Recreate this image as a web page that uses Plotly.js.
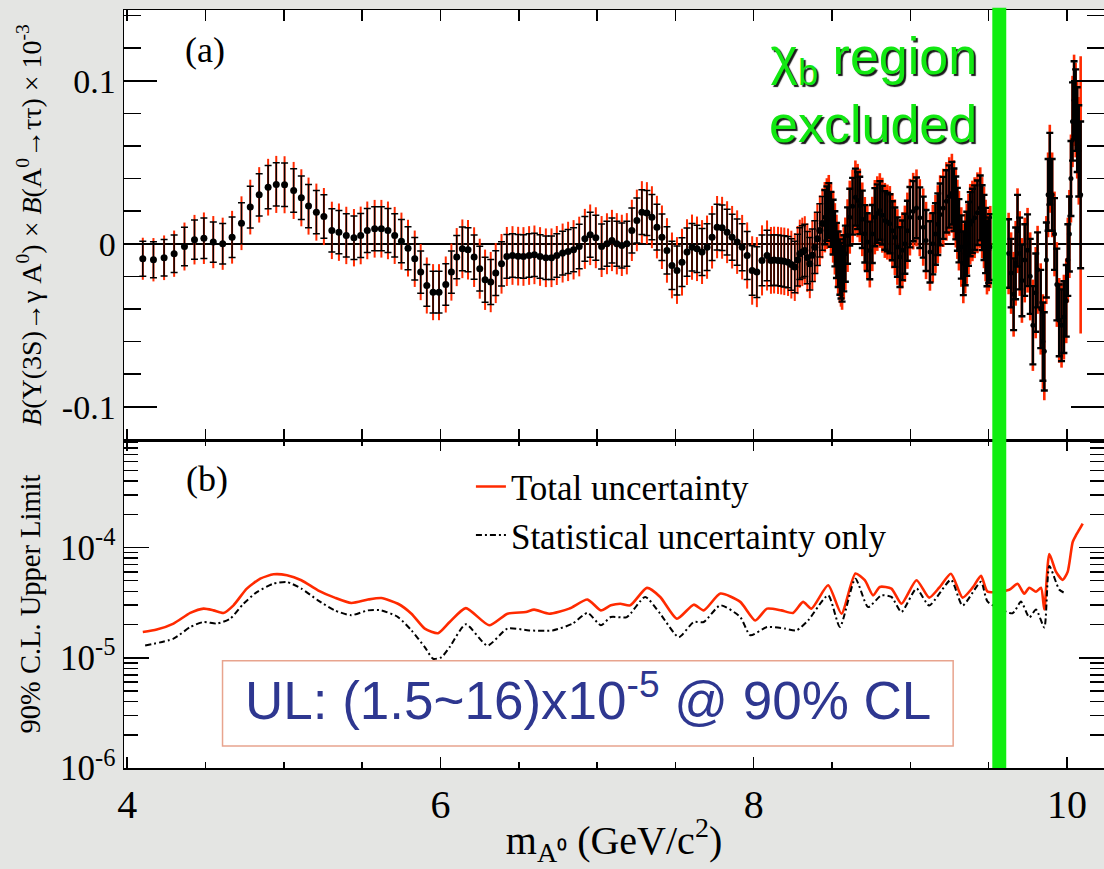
<!DOCTYPE html>
<html>
<head>
<meta charset="utf-8">
<script src="https://cdn.plot.ly/plotly-3.0.1.min.js"></script>
<style>
html,body{margin:0;padding:0;background:#e4e5e3;}
#chart{width:1104px;height:869px;}
</style>
</head>
<body>
<div id="chart"></div>
<script>
// ---------- Panel (a): fitted signal branching fraction (x 1e-3) ----------
const massX = [
 4.10,4.168,4.236,4.30,4.366,4.43,4.49,4.55,4.61,4.67,4.73,4.786,4.843,4.90,4.952,5.005,5.063,5.112,5.158,5.208,
 5.256,5.307,5.352,5.399,5.448,5.491,5.533,5.58,5.623,5.665,5.708,5.751,5.793,5.836,5.874,5.913,5.953,5.991,6.034,
 6.07,6.104,6.14,6.176,6.215,6.251,6.285,6.321,6.353,6.39,6.424,6.46,6.496,6.53,6.566,6.60,6.636,6.673,6.709,6.743,
 6.78,6.815,6.85,6.886,6.922,6.956,6.992,7.029,7.063,7.095,7.126,7.158,7.19,7.222,7.254,7.286,7.318,7.35,7.382,7.414,
 7.446,7.478,7.51,7.542,7.574,7.606,7.638,7.67,7.702,7.734,7.766,7.798,7.83,7.862,7.894,7.926,7.958,7.99,8.02,8.053,8.085,
 8.11,8.13,8.155,8.175,8.195,8.219,8.24,8.262,8.28,8.294,8.31,8.326,8.342,8.358,8.374,8.39,8.406,8.422,8.438,8.454,
 8.467,8.479,8.493,8.507,8.518,8.528,8.539,8.55,8.557,8.564,8.575,8.585,8.599,8.613,8.631,8.649,8.663,8.677,8.693,8.709,
 8.725,8.741,8.757,8.773,8.789,8.805,8.821,8.837,8.853,8.869,8.885,8.901,8.917,8.933,8.949,8.965,8.981,8.997,9.018,9.039,
 9.06,9.082,9.10,9.125,9.143,9.16,9.175,9.19,9.21,9.23,9.248,9.265,9.278,9.29,9.30,9.31,9.325,9.338,9.35,9.36,
 9.371,9.382,9.396,9.41,9.428,9.446,9.458,9.47,9.48,9.489,9.50,9.51,
 9.627,9.643,9.659,9.672,9.684,9.698,9.712,9.73,9.748,9.765,9.782,9.80,9.812,9.832,9.846,9.855,9.868,9.879,9.89,9.905,
 9.92,9.935,9.95,9.965,9.98,9.995,10.005,10.015,10.025,10.035,10.045,10.055,10.065,10.075,10.087
];
const central = [
 -0.0092,-0.0098,-0.0086,-0.0061,-0.0017,0.0025,0.0034,0.001,0.0,0.004,0.0126,0.0225,0.030,0.0347,0.0364,0.0362,0.0327,0.0282,0.0231,0.0194,
 0.0167,0.0082,0.0071,0.0051,0.0037,0.0051,0.0082,0.0092,0.0092,0.0082,0.0051,0.0016,-0.0027,-0.0092,-0.0174,-0.0256,-0.0297,-0.0297,-0.025,
 -0.0174,-0.0082,-0.0031,-0.0037,-0.0082,-0.0153,-0.0221,-0.0235,-0.018,-0.0123,-0.0078,-0.0072,-0.0076,-0.0078,-0.0072,-0.0068,-0.0078,-0.0086,-0.0086,-0.0072,
 -0.0057,-0.0047,-0.0037,-0.0017,0.003,0.0055,0.0037,-0.0017,0.0,0.002,0.0,-0.001,0.0,0.0082,0.0143,0.0194,0.0188,0.0163,0.0102,0.004,
 -0.0041,-0.0133,-0.0164,-0.0113,-0.0051,-0.0021,-0.0031,-0.0051,-0.0021,0.004,0.0102,0.0098,0.0071,0.004,0.001,-0.0021,-0.0072,-0.0164,-0.0174,-0.0102,-0.0072,
 -0.0102,-0.0100,-0.0102,-0.0105,-0.0108,-0.0113,-0.0128,-0.0143,-0.0100,-0.0061,-0.0050,-0.0041,-0.0085,-0.0123,-0.0070,-0.0021,0.0030,0.0082,0.0125,0.0163,
 0.0185,0.0204,0.0150,0.0102,0.0030,-0.0041,-0.0095,-0.0143,-0.0165,-0.0184,-0.0120,-0.0061,0.0050,0.0163,0.0230,0.0286,0.0265,0.0235,0.0150,0.0061,
 0.0010,-0.0041,0.0060,0.0163,0.0185,0.0204,0.0175,0.0143,0.0133,0.0123,0.0080,0.0040,-0.0020,-0.0082,-0.0040,0.0000,0.0080,0.0163,0.0200,0.0220,
 0.0160,0.0102,0.0020,-0.0050,0.0000,0.0060,0.0120,0.0180,0.0220,0.0260,0.0290,0.0310,0.0270,0.0220,0.0150,0.0080,-0.0020,-0.0120,-0.0060,0.0000,
 0.0060,0.0120,0.0140,0.0160,0.0190,0.0220,0.0160,0.0100,0.0020,-0.0060,-0.0040,-0.0020,
 -0.006,-0.018,-0.031,-0.012,0.008,-0.006,-0.0225,-0.010,-0.004,-0.020,-0.050,-0.030,-0.016,-0.040,-0.060,-0.066,-0.010,0.030,0.046,0.030,
 0.006,-0.025,-0.047,-0.050,-0.045,-0.035,-0.010,0.006,0.040,0.075,0.088,0.082,0.070,0.057,0.030
];
const statErr = [
 0.0107,0.011,0.0112,0.0115,0.0118,0.012,0.0124,0.0124,0.0124,0.0124,0.0126,0.0128,0.013,0.0133,0.0133,0.0133,0.0133,0.0133,0.0133,0.0133,
 0.0133,0.0133,0.0133,0.0133,0.0133,0.0135,0.0135,0.0135,0.0135,0.0135,0.0133,0.0133,0.0132,0.013,0.013,0.0128,0.0128,0.0128,0.0128,
 0.0130,0.0132,0.0134,0.0135,0.0136,0.0137,0.0138,0.0138,0.0137,0.0136,0.0134,0.0133,0.0133,0.0133,0.0133,0.0133,0.0133,0.0133,0.0133,0.0134,
 0.0134,0.0135,0.0135,0.0136,0.0137,0.0138,0.0138,0.0138,0.0138,0.0138,0.0138,0.0138,0.0138,0.0138,0.0138,0.0138,0.0138,0.0139,0.0140,0.0142,
 0.0145,0.0148,0.0150,0.0150,0.0148,0.0146,0.0145,0.0144,0.0143,0.0142,0.0141,0.0140,0.0140,0.0141,0.0142,0.0144,0.0147,0.0152,0.0155,0.0155,0.0155,
 0.0155,0.0155,0.0156,0.0156,0.0157,0.0157,0.0158,0.0158,0.0159,0.0159,0.016,0.016,0.016,0.0161,0.0161,0.0162,0.0163,0.0164,0.0165,0.0166,
 0.0167,0.0168,0.0168,0.0168,0.0169,0.0169,0.017,0.017,0.0171,0.0171,0.0172,0.0172,0.0173,0.0174,0.0174,0.0175,0.0175,0.0176,0.0176,0.0176,
 0.0177,0.0177,0.0178,0.0178,0.0179,0.0179,0.018,0.018,0.018,0.0181,0.0181,0.0182,0.0182,0.0183,0.0183,0.0184,0.0184,0.0185,0.0185,0.0186,
 0.0186,0.0187,0.0187,0.0188,0.0188,0.0189,0.0189,0.019,0.019,0.0191,0.0191,0.0192,0.0192,0.0193,0.0193,0.0194,0.0194,0.0195,0.0195,0.0196,
 0.0196,0.0197,0.0197,0.0198,0.0198,0.0199,0.0199,0.02,0.02,0.0201,0.0201,0.0202,
 0.021,0.021,0.022,0.022,0.022,0.022,0.022,0.022,0.022,0.023,0.024,0.024,0.023,0.024,0.024,0.024,0.023,0.022,0.022,0.022,
 0.022,0.022,0.022,0.022,0.022,0.022,0.022,0.023,0.023,0.024,0.024,0.025,0.026,0.028,0.045
];
const totErr = [
 0.0129,0.0133,0.0137,0.0142,0.0147,0.0152,0.0158,0.016,0.016,0.0162,0.0165,0.0168,0.017,0.0174,0.0175,0.0175,0.0175,0.0175,0.0175,0.0175,
 0.0175,0.0176,0.0176,0.0176,0.0176,0.0177,0.0177,0.0177,0.0177,0.0177,0.0175,0.0175,0.0174,0.0173,0.0172,0.0172,0.0172,0.0172,0.0172,
 0.0175,0.0178,0.018,0.0182,0.0183,0.0184,0.0185,0.0185,0.0184,0.0183,0.0181,0.018,0.018,0.018,0.018,0.018,0.018,0.018,0.018,0.0181,
 0.0181,0.0182,0.0182,0.0183,0.0184,0.0186,0.0187,0.0187,0.0187,0.0188,0.0188,0.0188,0.0188,0.0188,0.0189,0.019,0.019,0.019,0.0192,0.0195,
 0.0198,0.0202,0.0205,0.0205,0.0202,0.02,0.0198,0.0196,0.0194,0.0192,0.0191,0.019,0.019,0.0192,0.0195,0.0198,0.0203,0.021,0.0215,0.0215,0.0215,
 0.0205,0.0205,0.0206,0.0206,0.0207,0.0207,0.0208,0.0208,0.0209,0.0209,0.021,0.021,0.021,0.0211,0.0211,0.0212,0.0213,0.0214,0.0215,0.0216,
 0.0217,0.0218,0.0218,0.0218,0.0219,0.0219,0.022,0.022,0.0221,0.0221,0.0222,0.0222,0.0223,0.0224,0.0224,0.0225,0.0225,0.0226,0.0226,0.0226,
 0.0227,0.0227,0.0228,0.0228,0.0229,0.0229,0.023,0.023,0.023,0.0231,0.0231,0.0232,0.0232,0.0233,0.0233,0.0234,0.0234,0.0235,0.0235,0.0236,
 0.0236,0.0237,0.0237,0.0238,0.0238,0.0239,0.0239,0.024,0.024,0.0241,0.0241,0.0242,0.0242,0.0243,0.0243,0.0244,0.0244,0.0245,0.0245,0.0246,
 0.0246,0.0247,0.0247,0.0248,0.0248,0.0249,0.0249,0.025,0.025,0.0251,0.0251,0.0252,
 0.025,0.025,0.026,0.026,0.026,0.026,0.026,0.026,0.026,0.027,0.028,0.028,0.027,0.028,0.029,0.030,0.027,0.026,0.027,0.026,
 0.026,0.026,0.026,0.026,0.026,0.026,0.026,0.027,0.027,0.028,0.028,0.029,0.030,0.033,0.085
];

// ---------- Panel (b): 90% C.L. upper limits ----------
const ulTotX = [4.10,4.189,4.296,4.403,4.488,4.551,4.615,4.679,4.764,4.85,4.935,5.02,5.112,5.218,5.325,5.431,5.537,5.623,5.729,5.815,
 5.90,5.985,6.059,6.162,6.311,6.428,6.545,6.598,6.694,6.822,6.939,7.024,7.088,7.148,7.212,7.318,7.403,7.51,7.617,7.681,
 7.787,7.914,8.01,8.085,8.176,8.251,8.315,8.368,8.475,8.56,8.649,8.709,8.762,8.805,8.879,8.943,9.039,9.12,9.184,9.259,
 9.333,9.397,9.451,9.493,9.631,9.684,9.727,9.759,9.802,9.834,9.855,9.887,9.93,9.972,10.004,10.036,10.058,10.078,10.10];
const ulTotal = [1.71e-5,1.80e-5,2.04e-5,2.55e-5,2.79e-5,2.69e-5,2.55e-5,2.99e-5,4.24e-5,5.22e-5,5.71e-5,5.60e-5,5.05e-5,4.09e-5,3.51e-5,3.14e-5,3.37e-5,3.48e-5,3.09e-5,2.51e-5,
 1.84e-5,1.67e-5,2.11e-5,2.82e-5,1.97e-5,2.51e-5,2.60e-5,2.73e-5,2.51e-5,2.79e-5,3.37e-5,2.69e-5,2.99e-5,3.09e-5,2.99e-5,4.30e-5,3.56e-5,2.26e-5,3.03e-5,2.69e-5,
 3.82e-5,3.21e-5,2.18e-5,2.79e-5,2.69e-5,2.55e-5,3.21e-5,2.79e-5,4.54e-5,2.51e-5,5.81e-5,5.05e-5,3.68e-5,4.39e-5,4.24e-5,3.09e-5,5.05e-5,3.51e-5,4.32e-5,5.77e-5,
 3.51e-5,4.32e-5,5.53e-5,3.97e-5,4.14e-5,4.69e-5,3.81e-5,4.32e-5,3.97e-5,4.32e-5,2.74e-5,8.73e-5,6.01e-5,5.09e-5,6.01e-5,1.12e-4,1.30e-4,1.45e-4,1.65e-4];
const ulStatX = [4.115,4.296,4.403,4.488,4.573,4.658,4.743,4.828,4.935,5.02,5.112,5.218,5.325,5.431,5.537,5.623,5.729,5.815,5.90,5.953,
 6.006,6.059,6.162,6.30,6.428,6.566,6.716,6.844,6.939,7.024,7.088,7.19,7.307,7.403,7.521,7.617,7.681,7.787,7.914,7.978,
 8.085,8.198,8.272,8.347,8.475,8.55,8.649,8.73,8.815,8.879,8.943,9.039,9.12,9.259,9.333,9.451,9.493,9.652,9.706,9.759,
 9.802,9.855,9.887,9.951,9.994,10.04,10.09];
const ulStat = [1.29e-5,1.49e-5,1.90e-5,2.11e-5,2.04e-5,2.26e-5,3.09e-5,3.94e-5,4.71e-5,4.86e-5,4.24e-5,3.32e-5,2.69e-5,2.43e-5,2.69e-5,2.69e-5,2.34e-5,1.77e-5,1.25e-5,9.8e-6,
 1.01e-5,1.25e-5,2.01e-5,1.29e-5,1.84e-5,1.77e-5,1.77e-5,2.04e-5,2.55e-5,1.97e-5,2.34e-5,2.34e-5,3.56e-5,2.51e-5,1.54e-5,2.11e-5,2.11e-5,2.99e-5,2.34e-5,1.60e-5,
 1.90e-5,1.84e-5,1.77e-5,2.18e-5,3.68e-5,1.90e-5,5.22e-5,2.88e-5,3.68e-5,3.56e-5,2.60e-5,4.24e-5,2.98e-5,5.09e-5,2.98e-5,4.89e-5,3.23e-5,2.53e-5,3.23e-5,2.32e-5,
 2.74e-5,1.88e-5,6.81e-5,4.14e-5,3.81e-5,null,9.9e-5];

// ---------- labels ----------
const xTickVals = [4, 6, 8, 10];
const xTickText = ['4', '6', '8', '10'];
const aTickVals = [-0.1, 0, 0.1];
const aTickText = ['-0.1', '0', '0.1'];
const bTickVals = [1e-6, 1e-5, 1e-4];
const bTickText = ['10<sup>-6</sup>', '10<sup>-5</sup>', '10<sup>-4</sup>'];
const excludedRegion = [9.523, 9.612];
const denseFrom = 8.45;   // bins become dense (overlapping bars) above this mass

const serif = 'Liberation Serif, Times New Roman, serif';
const sans = 'Liberation Sans, Arial, sans-serif';
const RED = '#ff2a00';

// split the points into the sparse and dense mass ranges (drawn with different bar widths)
const split = massX.findIndex(v => v >= denseFrom);
const part = (arr, dense) => dense ? arr.slice(split) : arr.slice(0, split);

function errTraces(dense) {
  return [
    { x: part(massX, dense), y: part(central, dense), xaxis: 'x2', yaxis: 'y2', type: 'scatter', mode: 'markers',
      showlegend: false, hoverinfo: 'skip',
      marker: { size: 1, color: 'rgba(0,0,0,0)' },
      error_y: { type: 'data', array: part(totErr, dense), visible: true, color: RED,
                 thickness: dense ? 2.6 : 2, width: 0 } },
    { x: part(massX, dense), y: part(central, dense), xaxis: 'x2', yaxis: 'y2', type: 'scatter', mode: 'markers',
      showlegend: false,
      marker: { size: dense ? 5 : 7, color: '#000' },
      error_y: { type: 'data', array: part(statErr, dense), visible: true, color: '#000',
                 thickness: dense ? 2.4 : 1.5, width: 3.5 } }
  ];
}

const traces = [
  errTraces(false)[0], errTraces(true)[0],
  errTraces(false)[1], errTraces(true)[1],
  { x: ulTotX, y: ulTotal, xaxis: 'x', yaxis: 'y', type: 'scatter', mode: 'lines', name: 'Total uncertainty',
    line: { color: RED, width: 2.6, shape: 'spline', smoothing: 0.6 } },
  { x: ulStatX, y: ulStat, xaxis: 'x', yaxis: 'y', type: 'scatter', mode: 'lines', name: 'Statistical uncertainty only',
    line: { color: '#000', width: 2, dash: '6px,3px,2px,3px', shape: 'spline', smoothing: 0.6 } }
];

const axLine = { showline: true, linecolor: '#000', linewidth: 1.5, mirror: 'ticks', showgrid: false, zeroline: false };

const layout = {
  width: 1104, height: 869,
  paper_bgcolor: '#e4e5e3', plot_bgcolor: '#ffffff',
  margin: { l: 124, r: 0, t: 10, b: 101 },
  showlegend: true,
  legend: { x: 0.354, y: 0.41, xanchor: 'left', yanchor: 'top', bgcolor: 'rgba(0,0,0,0)',
            font: { family: serif, size: 35, color: '#000' }, tracegroupgap: 0 },
  xaxis: Object.assign({}, axLine, {
    domain: [0, 1], anchor: 'y', range: [3.98, 10.236],
    tickmode: 'array', tickvals: xTickVals, ticktext: xTickText,
    ticks: 'inside', ticklen: 11, tickwidth: 1.5, tickcolor: '#000',
    minor: { tickmode: 'linear', tick0: 4, dtick: 0.5, ticks: 'inside', ticklen: 6, tickwidth: 1.5, tickcolor: '#000' },
    tickfont: { family: serif, size: 40, color: '#000' },
    title: { text: 'm<sub>A⁰</sub> (GeV/c<sup>2</sup>)', font: { family: serif, size: 40, color: '#000' }, standoff: 0 }
  }),
  yaxis: Object.assign({}, axLine, {
    domain: [0, 0.4327], anchor: 'x', type: 'log', range: [-6, -3.025],
    tickmode: 'array', tickvals: bTickVals, ticktext: bTickText,
    ticks: 'inside', ticklen: 25, tickwidth: 1.5, tickcolor: '#000',
    minor: { dtick: 'D1', ticks: 'inside', ticklen: 14, tickwidth: 1.5, tickcolor: '#000' },
    tickfont: { family: serif, size: 35, color: '#000' },
    title: { text: '90% C.L. Upper Limit', font: { family: serif, size: 28.5, color: '#000' }, standoff: 11 }
  }),
  xaxis2: Object.assign({}, axLine, {
    domain: [0, 1], anchor: 'y2', matches: 'x', range: [3.98, 10.236],
    tickmode: 'linear', tick0: 4, dtick: 0.5, showticklabels: false,
    ticks: 'inside', ticklen: 11, tickwidth: 1.5, tickcolor: '#000'
  }),
  yaxis2: Object.assign({}, axLine, {
    domain: [0.4327, 1], anchor: 'x2', range: [-0.1204, 0.1434],
    tickmode: 'array', tickvals: aTickVals, ticktext: aTickText,
    ticks: 'inside', ticklen: 33, tickwidth: 1.5, tickcolor: '#000',
    minor: { tickmode: 'linear', tick0: 0, dtick: 0.02, ticks: 'inside', ticklen: 17, tickwidth: 1.5, tickcolor: '#000' },
    zeroline: true, zerolinecolor: '#000', zerolinewidth: 1.5,
    tickfont: { family: serif, size: 34, color: '#000' },
    title: { text: '<i>B</i>(Υ(3S)→γ A<sup>0</sup>) × <i>B</i>(A<sup>0</sup>→ττ) × 10<sup>-3</sup>',
             font: { family: serif, size: 28, color: '#000' }, standoff: 12 }
  }),
  shapes: [
    { type: 'rect', xref: 'x', yref: 'paper', x0: 4.609, x1: 9.273, y0: 0.029, y1: 0.1416,
      line: { color: '#e8a48e', width: 1.5 }, fillcolor: '#ffffff', layer: 'below' },
    { type: 'rect', xref: 'x', yref: 'paper', x0: excludedRegion[0], x1: excludedRegion[1], y0: 0, y1: 1.003,
      line: { width: 0 }, fillcolor: '#10ee10', layer: 'above' }
  ],
  annotations: [
    { xref: 'x2', yref: 'y2', x: 4.50, y: 0.1186, text: '(a)', showarrow: false,
      font: { family: serif, size: 36, color: '#000' } },
    { xref: 'x', yref: 'y', x: 4.513, y: -3.379, text: '(b)', showarrow: false,
      font: { family: serif, size: 36, color: '#000' } },
    { xref: 'x', yref: 'paper', x: 6.941, y: 0.048, text: 'UL: (1.5~16)x10<sup>-5</sup> @ 90% CL', showarrow: false,
      font: { family: sans, size: 53, color: '#2e3790' } },
    { xref: 'x', yref: 'paper', x: 9.44, y: 0.895, xanchor: 'right', yanchor: 'middle', align: 'right',
      text: 'χ<sub>b</sub> region<br>excluded', showarrow: false,
      font: { family: sans, size: 52, color: '#12e812', shadow: '2px 2px 1px #1a1a1a' } }
  ]
};

Plotly.newPlot('chart', traces, layout, { displayModeBar: false, staticPlot: true });
</script>
</body>
</html>
